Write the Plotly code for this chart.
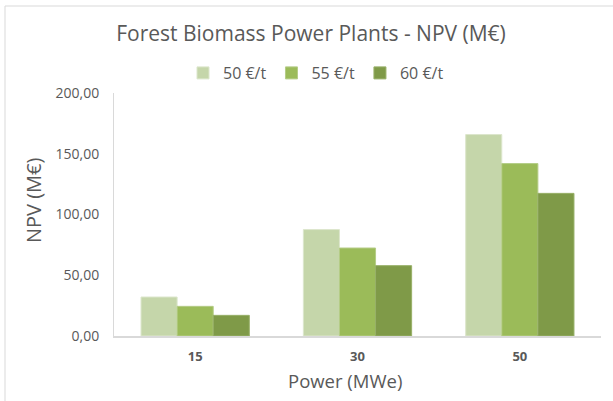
import plotly.graph_objects as go

categories = ["15", "30", "50"]
series_names = ["50 €/t", "55 €/t", "60 €/t"]
npv_50 = [32.1, 87.6, 165.8]
npv_55 = [24.4, 72.4, 141.9]
npv_60 = [17.0, 57.9, 117.4]
colors = ["#C5D6AA", "#9BBB59", "#7F9A48"]
edge_colors = ["#DCE6CC", "#B4CC86", "#98B068"]
y_tickvals = [0, 50, 100, 150, 200]
y_ticktext = ["0,00", "50,00", "100,00", "150,00", "200,00"]

TXT = "#595959"
FONT = "Open Sans"

fig = go.Figure()
for name, vals, c, ec in zip(series_names, [npv_50, npv_55, npv_60], colors, edge_colors):
    fig.add_trace(go.Bar(x=categories, y=vals, name=name, hoverinfo="skip",
                         marker=dict(color=c, line=dict(color=ec, width=1))))

W, H = 613, 401
L, R, T, B = 114, 12, 93, 65
pw = W - L - R
ph = H - T - B

def px_x(x):
    return (x - L) / pw

def px_y(y):
    return (H - B - y) / ph

fig.update_layout(
    width=W, height=H,
    margin=dict(l=L, r=R, t=T, b=B, autoexpand=False),
    paper_bgcolor="white", plot_bgcolor="white",
    barmode="group", bargap=0.333, bargroupgap=0,
    font=dict(family=FONT, color=TXT, size=12),
    title=dict(text="Forest Biomass Power Plants - NPV (M€)",
               x=311 / W, xanchor="center", y=1 - 34 / H, yanchor="middle",
               font=dict(size=21, color=TXT, family=FONT)),
    showlegend=True,
    legend=dict(orientation="h", x=px_x(316), xanchor="center",
                y=px_y(73), yanchor="middle",
                font=dict(size=16, color=TXT, family=FONT),
                itemwidth=30, bgcolor="rgba(0,0,0,0)"),
    xaxis=dict(type="category", showgrid=False, showline=True,
               linecolor="#D9D9D9", linewidth=1.5, ticks="",
               ticklabelstandoff=8,
               tickfont=dict(size=13, color=TXT, family=FONT, weight="bold")),
    yaxis=dict(range=[0, 200], tickvals=y_tickvals, ticktext=y_ticktext,
               showgrid=False, showline=True, linecolor="#D9D9D9", linewidth=1,
               ticks="", zeroline=False, ticklabelstandoff=11,
               tickfont=dict(size=14, color=TXT, family=FONT)),
    annotations=[
        dict(text="NPV (M€)", xref="paper", yref="paper",
             x=px_x(33), y=px_y(200), xanchor="center", yanchor="middle",
             textangle=-90, showarrow=False,
             font=dict(size=20, color=TXT, family=FONT)),
        dict(text="Power (MWe)", xref="paper", yref="paper",
             x=px_x(345), y=px_y(380), xanchor="center", yanchor="middle",
             showarrow=False, font=dict(size=18.5, color=TXT, family=FONT)),
    ],
    shapes=[
        dict(type="line", xref="paper", yref="paper",
             x0=px_x(5), x1=px_x(W + 5), y0=px_y(6), y1=px_y(6),
             line=dict(color="#D9D9D9", width=1)),
        dict(type="line", xref="paper", yref="paper",
             x0=px_x(5), x1=px_x(5), y0=px_y(6), y1=px_y(H + 5),
             line=dict(color="#D9D9D9", width=1)),
    ],
)

fig.write_html("out.html", config={"displayModeBar": False},
               post_script="document.body.style.margin='0';document.body.style.overflow='hidden';")
